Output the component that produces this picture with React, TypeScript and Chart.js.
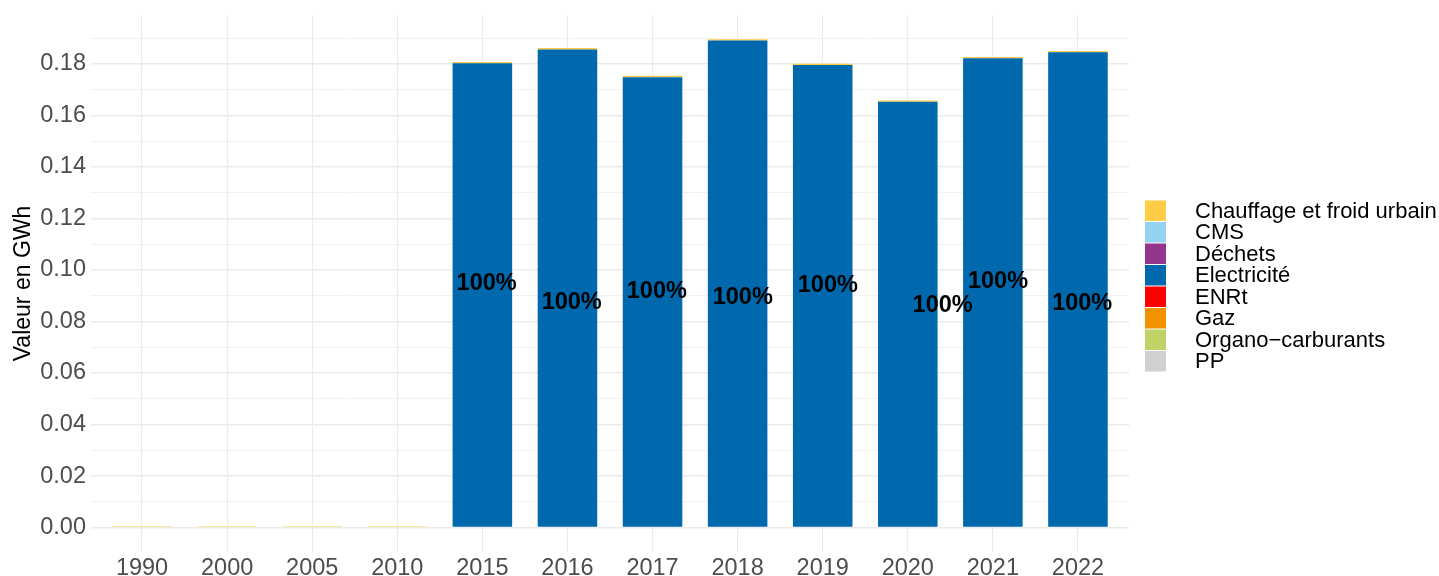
import React, { useEffect, useRef } from "react";
import { Chart, registerables } from "chart.js";

Chart.register(...registerables);

const years = ["1990", "2000", "2005", "2010", "2015", "2016", "2017", "2018", "2019", "2020", "2021", "2022"];

const seriesNames = ["Chauffage et froid urbain", "CMS", "Déchets", "Electricité", "ENRt", "Gaz", "Organo\u2212carburants", "PP"];
const seriesColors = ["#FECC45", "#93D3F0", "#93368C", "#0069AE", "#FF0000", "#F39200", "#BFD465", "#D0D0D2"];

const chauffage = [0.0005, 0.0005, 0.0005, 0.0005, 0.0005, 0.0005, 0.0005, 0.0005, 0.0005, 0.0005, 0.0005, 0.0005];
const cms = [0, 0, 0, 0, 0, 0, 0, 0, 0, 0, 0, 0];
const dechets = [0, 0, 0, 0, 0, 0, 0, 0, 0, 0, 0, 0];
const electricite = [0, 0, 0, 0, 0.18026, 0.18564, 0.17487, 0.1891, 0.17962, 0.1653, 0.18218, 0.18449];
const enrt = [0, 0, 0, 0, 0, 0, 0, 0, 0, 0, 0, 0];
const gaz = [0, 0, 0, 0, 0, 0, 0, 0, 0, 0, 0, 0];
const organo = [0, 0, 0, 0, 0, 0, 0, 0, 0, 0, 0, 0];
const pp = [0, 0, 0, 0, 0, 0, 0, 0, 0, 0, 0, 0];

const seriesValues = [chauffage, cms, dechets, electricite, enrt, gaz, organo, pp];

// percentage labels (jittered positions in data units)
const labelText = ["", "", "", "", "100%", "100%", "100%", "100%", "100%", "100%", "100%", "100%"];
const labelY = [0, 0, 0, 0, 0.09455, 0.0874, 0.0918, 0.0894, 0.094, 0.0862, 0.0957, 0.087];
const labelDx = [0, 0, 0, 0, 0.05, 0.05, 0.05, 0.06, 0.06, 0.41, 0.06, 0.05];

const yTicks = [0, 0.01, 0.02, 0.03, 0.04, 0.05, 0.06, 0.07, 0.08, 0.09, 0.1, 0.11, 0.12, 0.13, 0.14, 0.15, 0.16, 0.17, 0.18, 0.19];

const FONT = "'Liberation Sans', Arial, Helvetica, sans-serif";

export default function App() {
  const ref = useRef<HTMLCanvasElement | null>(null);

  useEffect(() => {
    document.body.style.margin = "0";
    const canvas = ref.current;
    if (!canvas) return;

    // stacking: first level on top in the reference -> reverse dataset order
    const datasets = seriesNames
      .map((name, k) => ({
        label: name,
        data: seriesValues[k].map((v, i) => ({ x: i, y: v })),
        backgroundColor: seriesColors[k],
        borderWidth: 0,
        barPercentage: 0.7,
        categoryPercentage: 1,
      }))
      .reverse();

    const labelPlugin = {
      id: "pctLabels",
      afterDatasetsDraw(chart: any) {
        const { ctx, scales } = chart;
        ctx.save();
        ctx.font = `bold 23.5px ${FONT}`;
        ctx.fillStyle = "#000000";
        ctx.textAlign = "center";
        ctx.textBaseline = "middle";
        labelText.forEach((t, i) => {
          if (!t) return;
          const x = scales.x.getPixelForValue(i + labelDx[i]);
          const y = scales.y.getPixelForValue(labelY[i]);
          ctx.fillText(t, x, y);
        });
        ctx.restore();
      },
    };

    const legendPlugin = {
      id: "ggLegend",
      afterDraw(chart: any) {
        const { ctx } = chart;
        const x0 = 1145;
        const y0 = 200;
        const h = 21.5;
        ctx.save();
        ctx.font = `22px ${FONT}`;
        ctx.textAlign = "left";
        ctx.textBaseline = "middle";
        seriesNames.forEach((name, k) => {
          const y = y0 + k * h;
          ctx.fillStyle = seriesColors[k];
          ctx.fillRect(x0, y + 0.5, 21, h - 1);
          ctx.fillStyle = "#000000";
          ctx.fillText(name, 1195, y + h / 2 + 1);
        });
        ctx.restore();
      },
    };

    const chart = new Chart(canvas, {
      type: "bar",
      data: { datasets },
      options: {
        animation: false,
        responsive: false,
        maintainAspectRatio: false,
        layout: { padding: { left: 0, right: 310, top: 15, bottom: 0 } },
        plugins: {
          legend: { display: false },
          tooltip: { enabled: false },
          title: { display: false },
        },
        scales: {
          x: {
            type: "linear",
            stacked: true,
            min: -0.6,
            max: 11.6,
            offset: false,
            afterBuildTicks: (scale: any) => {
              scale.ticks = years.map((_, i) => ({ value: i }));
            },
            afterFit: (scale: any) => {
              scale.height = 24;
            },
            ticks: {
              autoSkip: false,
              maxRotation: 0,
              padding: 2,
              color: "#4D4D4D",
              font: { family: FONT, size: 23.5 },
              callback: (v: any) => years[Math.round(Number(v))] ?? "",
            },
            grid: { color: "#EBEBEB", lineWidth: 1.1, drawTicks: false, offset: false },
            border: { display: false },
          },
          y: {
            stacked: true,
            min: -0.0095,
            max: 0.199,
            afterBuildTicks: (scale: any) => {
              scale.ticks = yTicks.map((v) => ({ value: v }));
            },
            afterFit: (scale: any) => {
              scale.width = 91;
            },
            ticks: {
              padding: 5,
              color: "#4D4D4D",
              font: { family: FONT, size: 23.5, lineHeight: 0.8 },
              callback: (v: any, i: number) => (i % 2 === 0 ? Number(v).toFixed(2) : ""),
            },
            grid: {
              color: "#EBEBEB",
              lineWidth: (c: any) => (c.index % 2 === 0 ? 1.4 : 0.7),
              drawTicks: false,
            },
            border: { display: false },
            title: {
              display: true,
              text: "Valeur en GWh",
              color: "#000000",
              font: { family: FONT, size: 23 },
              padding: { top: 10, bottom: 0 },
            },
          },
        },
      },
      plugins: [labelPlugin, legendPlugin],
    });

    return () => chart.destroy();
  }, []);

  return (
    <div style={{ width: 1439, height: 576, position: "relative" }}>
      <canvas ref={ref} width={1439} height={576} style={{ display: "block" }} />
    </div>
  );
}
